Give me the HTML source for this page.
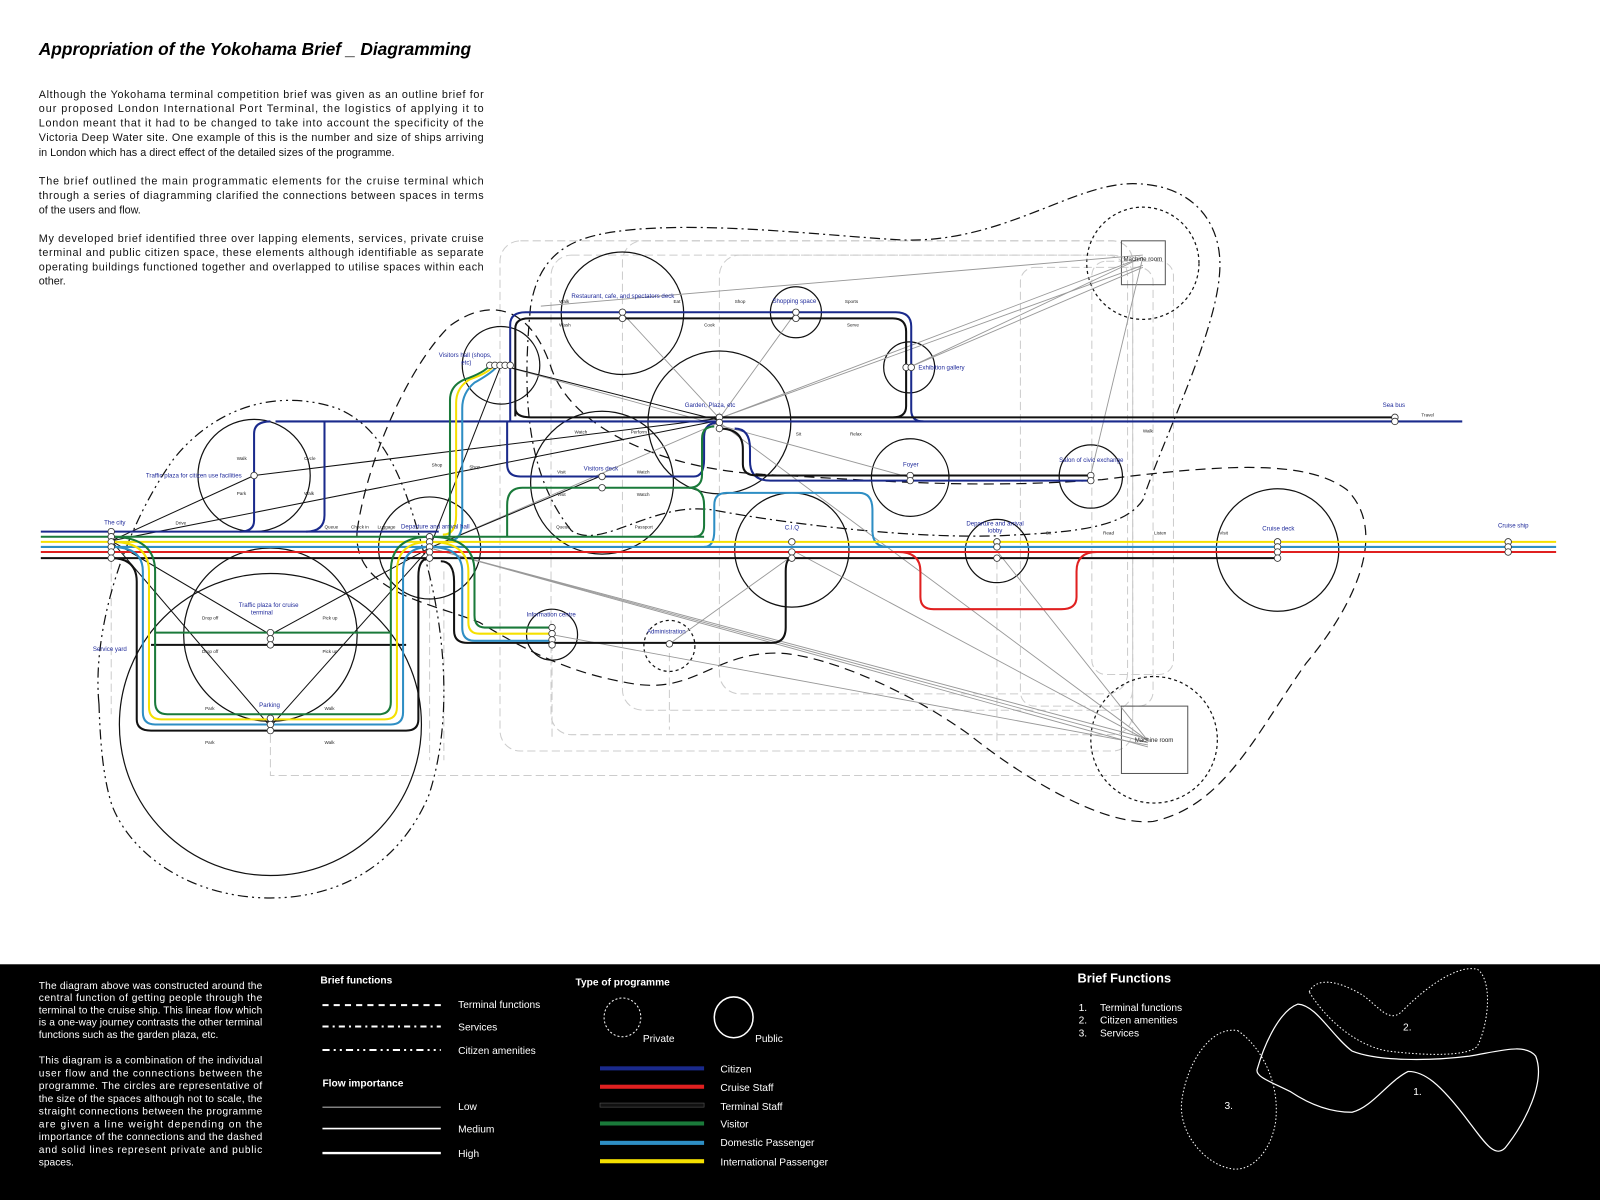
<!DOCTYPE html>
<html><head><meta charset="utf-8"><style>
html,body{margin:0;padding:0;background:#fff}
svg{display:block}
text{font-family:"Liberation Sans",Arial,sans-serif}
.lb{fill:#1f2a9a;font-size:6px}
.sm{fill:#222;font-size:4.5px}
.p{font-size:10.6px;fill:#111}
.w{fill:#fff;font-size:10px}
</style></head><body>
<svg width="1600" height="1200" viewBox="0 0 1568 1176" xmlns="http://www.w3.org/2000/svg">
<rect width="1568" height="1176" fill="#fff"/>
<text x="38" y="54" font-size="17" font-weight="bold" font-style="italic" fill="#000">Appropriation of the Yokohama Brief _ Diagramming</text>
<g class="p">
<text x="38" y="96" textLength="436" lengthAdjust="spacing">Although the Yokohama terminal competition brief was given as an outline brief for</text>
<text x="38" y="110" textLength="436" lengthAdjust="spacing">our proposed London International Port Terminal, the logistics of applying it to</text>
<text x="38" y="124" textLength="436" lengthAdjust="spacing">London meant that it had to be changed to take into account the specificity of the</text>
<text x="38" y="138" textLength="436" lengthAdjust="spacing">Victoria Deep Water site. One example of this is the number and size of ships arriving</text>
<text x="38" y="153">in London which has a direct effect of the detailed sizes of the programme.</text>
<text x="38" y="181" textLength="436" lengthAdjust="spacing">The brief outlined the main programmatic elements for the cruise terminal which</text>
<text x="38" y="195" textLength="436" lengthAdjust="spacing">through a series of diagramming clarified the connections between spaces in terms</text>
<text x="38" y="209">of the users and flow.</text>
<text x="38" y="237" textLength="436" lengthAdjust="spacing">My developed brief identified three over lapping elements, services, private cruise</text>
<text x="38" y="251" textLength="436" lengthAdjust="spacing">terminal and public citizen space, these elements although identifiable as separate</text>
<text x="38" y="265" textLength="436" lengthAdjust="spacing">operating buildings functioned together and overlapped to utilise spaces within each</text>
<text x="38" y="279">other.</text>
</g>

<g fill="none" stroke="#ccc" stroke-width="1" stroke-dasharray="8,4">
<rect x="490" y="236" width="620" height="500" rx="20"/>
<rect x="540" y="250" width="570" height="470" rx="20"/>
<rect x="610" y="236" width="500" height="460" rx="20"/>
<rect x="705" y="250" width="400" height="430" rx="20"/>
<rect x="1070" y="256" width="80" height="405" rx="14"/>
<rect x="1000" y="262" width="130" height="430" rx="14"/>
<path d="M265 720 V760 H1100"/>
<line x1="109" y1="550" x2="109" y2="700"/>
<line x1="421" y1="550" x2="421" y2="745"/>
<line x1="541" y1="630" x2="541" y2="725"/>
<line x1="656" y1="640" x2="656" y2="715"/>
<line x1="977" y1="550" x2="977" y2="730"/>
<line x1="435" y1="560" x2="435" y2="745"/>
</g>

<g fill="none" stroke="#111" stroke-width="1.2">
<path stroke-dasharray="10,6" d="M350 520 C360 450 400 360 440 320 C480 290 520 300 540 360 C560 420 650 460 750 465 C850 470 950 480 1080 470 C1200 455 1280 450 1320 480 C1360 520 1330 590 1280 650 C1230 720 1200 790 1130 805 C1080 810 1000 760 950 720 C880 670 800 640 760 640 C700 640 680 680 620 670 C560 660 520 640 470 610 C420 590 345 580 350 520 Z"/>
<path stroke-dasharray="10,4,2,4" d="M560 520 C520 470 510 400 520 300 C530 240 570 230 620 225 C700 218 800 230 880 235 C980 240 1050 180 1110 180 C1170 180 1200 220 1195 270 C1190 330 1140 430 1120 490 C1100 520 1040 522 980 525 C900 528 780 515 700 500 C640 490 590 540 560 520 Z"/>
<path stroke-dasharray="10,4,2,4,2,4" d="M97 690 C90 620 120 520 170 450 C210 400 270 380 330 400 C380 420 400 480 420 560 C440 640 440 720 420 780 C390 850 330 880 265 880 C190 880 130 840 110 790 C100 760 98 720 97 690 Z"/>
</g>

<g fill="none" stroke="#111" stroke-width="1.2">
<circle cx="249" cy="466" r="55"/>
<circle cx="610" cy="307" r="60"/>
<circle cx="780" cy="306" r="25"/>
<circle cx="891" cy="360" r="25"/>
<circle cx="491" cy="358" r="38"/>
<circle cx="705" cy="414" r="70"/>
<circle cx="590" cy="473" r="70"/>
<circle cx="421" cy="537" r="50"/>
<circle cx="265" cy="622" r="85"/>
<circle cx="265" cy="710" r="148"/>
<circle cx="892" cy="468" r="38"/>
<circle cx="1069" cy="467" r="31"/>
<circle cx="776" cy="539" r="56"/>
<circle cx="977" cy="540" r="31"/>
<circle cx="1252" cy="539" r="60"/>
<circle cx="541" cy="622" r="25"/>
</g>
<g fill="none" stroke="#111" stroke-width="1.2" stroke-dasharray="3,3">
<circle cx="656" cy="633" r="25"/>
<circle cx="1120" cy="258" r="55"/>
<circle cx="1131" cy="725" r="62"/>
</g>
<rect x="1099" y="236" width="43" height="43" fill="none" stroke="#555"/>
<rect x="1099" y="692" width="65" height="66" fill="none" stroke="#555"/>

<g stroke="#999" stroke-width="0.9">
<line x1="705" y1="410" x2="1120" y2="252"/><line x1="705" y1="410" x2="1120" y2="260"/>
<line x1="891" y1="360" x2="1120" y2="252"/><line x1="891" y1="360" x2="1120" y2="262"/>
<line x1="530" y1="300" x2="1120" y2="250"/>
<line x1="1120" y1="252" x2="1069" y2="465"/>
<line x1="421" y1="537" x2="1125" y2="728"/><line x1="421" y1="537" x2="1125" y2="724"/>
<line x1="421" y1="537" x2="1125" y2="732"/>
<line x1="705" y1="414" x2="1125" y2="726"/>
<line x1="776" y1="539" x2="1125" y2="726"/>
<line x1="977" y1="540" x2="1125" y2="726"/>
<line x1="541" y1="622" x2="1125" y2="730"/>
<line x1="491" y1="358" x2="892" y2="468"/>
<line x1="610" y1="307" x2="705" y2="410"/>
<line x1="780" y1="306" x2="705" y2="410"/>
<line x1="656" y1="631" x2="776" y2="545"/>
<line x1="421" y1="537" x2="705" y2="414"/>
</g>
<g stroke="#111" stroke-width="1">
<line x1="109" y1="530" x2="249" y2="466"/>
<line x1="249" y1="466" x2="705" y2="410"/>
<line x1="109" y1="530" x2="705" y2="412"/>
<line x1="109" y1="530" x2="265" y2="622"/>
<line x1="109" y1="530" x2="265" y2="712"/>
<line x1="265" y1="622" x2="421" y2="537"/>
<line x1="265" y1="712" x2="421" y2="537"/>
<line x1="421" y1="537" x2="590" y2="466"/>
<line x1="421" y1="537" x2="491" y2="358"/>
<line x1="491" y1="358" x2="705" y2="412"/>
</g>

<g fill="none" stroke-width="2" stroke-linejoin="round">
<path stroke="#1a2a8c" d="M40 521 H109 H430"/>
<path stroke="#1a2a8c" d="M270 413 H1433"/>
<path stroke="#1a2a8c" d="M249 425 V510 Q249 521 235 521 M249 425 Q249 413 265 413"/>
<path stroke="#1a2a8c" d="M318 413 Q318 425 318 440 V505 Q318 521 300 521"/>
<path stroke="#1a2a8c" d="M497 413 Q497 430 497 455 Q497 467 510 467 H680 Q690 467 690 450 V428 Q690 414 705 414"/>
<path stroke="#1a2a8c" d="M500 413 V318 Q500 306 515 306 H878 Q893 306 893 320 V402 Q893 413 905 413"/>
<path stroke="#1a2a8c" d="M720 420 Q735 420 735 440 V452 Q735 471 755 471 H1069"/>
<path stroke="#111" d="M505 408 V322 Q505 312 518 312 H875 Q888 312 888 325 V398 Q888 409 875 409 H520 Q505 409 505 400"/>
<path stroke="#111" d="M700 409 H1367"/>
<path stroke="#111" d="M705 420 Q728 420 728 440 V455 Q728 466 742 466 H1069"/>
<path stroke="#111" d="M40 547 H1252"/>
<path stroke="#111" d="M109 547 Q134 547 134 570 V705 Q134 716 148 716 H398 Q410 716 410 705 V565 Q410 547 421 547"/>
<path stroke="#111" d="M148 632 H398"/>
<path stroke="#111" d="M432 550 Q445 550 445 570 V618 Q445 630 458 630 H756 Q770 630 770 615 V560 Q770 547 776 547"/>
<path stroke="#e02020" d="M40 541 H1525"/>
<path stroke="#e02020" d="M880 541 Q902 541 902 560 V585 Q902 597 915 597 H1040 Q1055 597 1055 585 V560 Q1055 541 1075 541"/>
<path stroke="#2e8ec4" d="M40 536 H1525"/>
<path stroke="#2e8ec4" d="M109 536 Q140 536 140 560 V698 Q140 710 152 710 H383 Q395 710 395 698 V560 Q395 536 421 536"/>
<path stroke="#2e8ec4" d="M421 536 Q453 536 453 560 V615 Q453 628 465 628 H541"/>
<path stroke="#2e8ec4" d="M440 530 Q453 530 453 510 V400 Q453 385 465 375 Q483 365 488 358"/>
<path stroke="#2e8ec4" d="M690 536 Q700 536 700 520 V495 Q700 483 712 483 H842 Q855 483 855 500 V520 Q855 536 870 536"/>
<path stroke="#f5e000" d="M40 531 H1525"/>
<path stroke="#f5e000" d="M109 531 Q146 531 146 560 V693 Q146 705 158 705 H377 Q389 705 389 693 V560 Q389 531 421 531"/>
<path stroke="#f5e000" d="M421 531 Q459 531 459 560 V610 Q459 621 470 621 H541"/>
<path stroke="#f5e000" d="M434 524 Q447 524 447 505 V395 Q447 380 460 372 Q480 365 484 358"/>
<path stroke="#1a7a3a" d="M40 526 H690"/>
<path stroke="#1a7a3a" d="M109 526 Q152 526 152 560 V688 Q152 700 164 700 H371 Q383 700 383 688 V560 Q383 526 421 526"/>
<path stroke="#1a7a3a" d="M152 620 H383"/>
<path stroke="#1a7a3a" d="M421 526 Q465 526 465 560 V603 Q465 615 475 615 H541"/>
<path stroke="#1a7a3a" d="M440 526 Q441 526 441 505 V392 Q441 378 455 372 Q475 365 480 358"/>
<path stroke="#1a7a3a" d="M497 526 Q497 510 497 495 Q497 478 512 478 H675 Q688 478 688 465 V430 Q688 418 700 418"/>
<path stroke="#1a7a3a" d="M675 478 Q690 478 690 495 V515 Q690 526 680 526"/>
</g>
<g fill="#fff" stroke="#333" stroke-width="0.8">
<circle cx="109" cy="521" r="3.2"/><circle cx="109" cy="526" r="3.2"/><circle cx="109" cy="531" r="3.2"/><circle cx="109" cy="536" r="3.2"/><circle cx="109" cy="541" r="3.2"/><circle cx="109" cy="547" r="3.2"/>
<circle cx="421" cy="526" r="3.2"/><circle cx="421" cy="531" r="3.2"/><circle cx="421" cy="536" r="3.2"/><circle cx="421" cy="541" r="3.2"/><circle cx="421" cy="547" r="3.2"/>
<circle cx="249" cy="466" r="3.2"/>
<circle cx="265" cy="620" r="3.2"/><circle cx="265" cy="626" r="3.2"/><circle cx="265" cy="632" r="3.2"/>
<circle cx="265" cy="704" r="3.2"/><circle cx="265" cy="710" r="3.2"/><circle cx="265" cy="716" r="3.2"/>
<circle cx="480" cy="358" r="3.2"/><circle cx="485" cy="358" r="3.2"/><circle cx="490" cy="358" r="3.2"/><circle cx="495" cy="358" r="3.2"/><circle cx="500" cy="358" r="3.2"/>
<circle cx="610" cy="306" r="3.2"/><circle cx="610" cy="312" r="3.2"/>
<circle cx="780" cy="306" r="3.2"/><circle cx="780" cy="312" r="3.2"/>
<circle cx="888" cy="360" r="3.2"/><circle cx="893" cy="360" r="3.2"/>
<circle cx="705" cy="409" r="3.2"/><circle cx="705" cy="414" r="3.2"/><circle cx="705" cy="420" r="3.2"/>
<circle cx="590" cy="467" r="3.2"/><circle cx="590" cy="478" r="3.2"/>
<circle cx="892" cy="466" r="3.2"/><circle cx="892" cy="471" r="3.2"/>
<circle cx="1069" cy="466" r="3.2"/><circle cx="1069" cy="471" r="3.2"/>
<circle cx="1367" cy="409" r="3.2"/><circle cx="1367" cy="413" r="3.2"/>
<circle cx="776" cy="531" r="3.2"/><circle cx="776" cy="541" r="3.2"/><circle cx="776" cy="547" r="3.2"/>
<circle cx="977" cy="531" r="3.2"/><circle cx="977" cy="536" r="3.2"/><circle cx="977" cy="547" r="3.2"/>
<circle cx="1252" cy="531" r="3.2"/><circle cx="1252" cy="536" r="3.2"/><circle cx="1252" cy="541" r="3.2"/><circle cx="1252" cy="547" r="3.2"/>
<circle cx="1478" cy="531" r="3.2"/><circle cx="1478" cy="536" r="3.2"/><circle cx="1478" cy="541" r="3.2"/>
<circle cx="541" cy="615" r="3.2"/><circle cx="541" cy="621" r="3.2"/><circle cx="541" cy="627" r="3.2"/><circle cx="541" cy="632" r="3.2"/>
<circle cx="656" cy="631" r="3.2"/>
</g>

<g class="lb">
<text x="102" y="514">The city</text>
<text x="143" y="468">Traffic plaza for citizen use facilities</text>
<text x="91" y="638">Service yard</text>
<text x="234" y="595">Traffic plaza for cruise</text>
<text x="246" y="602">terminal</text>
<text x="254" y="693">Parking</text>
<text x="393" y="518">Departure and arrival hall</text>
<text x="430" y="350">Visitors hall (shops,</text>
<text x="452" y="357">etc)</text>
<text x="560" y="292">Restaurant, cafe, and spectators deck</text>
<text x="757" y="297">Shopping space</text>
<text x="900" y="362">Exhibition gallery</text>
<text x="671" y="399">Garden, Plaza, etc</text>
<text x="572" y="461">Visitors deck</text>
<text x="885" y="457">Foyer</text>
<text x="1038" y="453">Salon of civic exchange</text>
<text x="1355" y="399">Sea bus</text>
<text x="769" y="519">C.I.Q</text>
<text x="947" y="515">Departure and arrival</text>
<text x="968" y="522">lobby</text>
<text x="1237" y="520">Cruise deck</text>
<text x="1468" y="517">Cruise ship</text>
<text x="516" y="604">Information centre</text>
<text x="634" y="621">Administration</text>
<text x="1101" y="256" fill="#222">Machine room</text>
<text x="1112" y="727" fill="#222">Machine room</text>
</g>
<g class="sm">
<text x="172" y="514">Drive</text><text x="318" y="518">Queue</text><text x="344" y="518">Check in</text><text x="370" y="518">Luggage</text>
<text x="545" y="518">Queue</text><text x="622" y="518">Passport</text>
<text x="232" y="451">Walk</text><text x="232" y="485">Park</text><text x="298" y="451">Cycle</text><text x="298" y="485">Walk</text>
<text x="198" y="607">Drop off</text><text x="198" y="640">Drop off</text><text x="316" y="607">Pick up</text><text x="316" y="640">Pick up</text>
<text x="201" y="696">Park</text><text x="201" y="729">Park</text><text x="318" y="696">Walk</text><text x="318" y="729">Walk</text>
<text x="423" y="457">Shop</text><text x="460" y="459">Shop</text>
<text x="548" y="297">Walk</text><text x="548" y="320">Wash</text><text x="660" y="297">Eat</text><text x="690" y="320">Cook</text>
<text x="720" y="297">Shop</text><text x="828" y="297">Sports</text><text x="830" y="320">Serve</text>
<text x="563" y="425">Watch</text><text x="618" y="425">Perform</text><text x="780" y="427">Sit</text><text x="833" y="427">Relax</text>
<text x="1120" y="424">Walk</text><text x="1393" y="408">Travel</text>
<text x="546" y="464">Visit</text><text x="546" y="486">Visit</text><text x="624" y="464">Watch</text><text x="624" y="486">Watch</text>
<text x="1025" y="524">Sit</text><text x="1081" y="524">Read</text><text x="1131" y="524">Listen</text><text x="1195" y="524">Visit</text>
</g>

<rect x="0" y="945" width="1568" height="231" fill="#000"/>
<g class="w" font-size="9.5">
<text x="38" y="969" textLength="219" lengthAdjust="spacing">The diagram above was constructed around the</text>
<text x="38" y="981" textLength="219" lengthAdjust="spacing">central function of getting people through the</text>
<text x="38" y="993" textLength="219" lengthAdjust="spacing">terminal to the cruise ship. This linear flow which</text>
<text x="38" y="1005" textLength="219" lengthAdjust="spacing">is a one-way journey contrasts the other terminal</text>
<text x="38" y="1017">functions such as the garden plaza, etc.</text>
<text x="38" y="1042" textLength="219" lengthAdjust="spacing">This diagram is a combination of the individual</text>
<text x="38" y="1055" textLength="219" lengthAdjust="spacing">user flow and the connections between the</text>
<text x="38" y="1067" textLength="219" lengthAdjust="spacing">programme. The circles are representative of</text>
<text x="38" y="1080" textLength="219" lengthAdjust="spacing">the size of the spaces although not to scale, the</text>
<text x="38" y="1092" textLength="219" lengthAdjust="spacing">straight connections between the programme</text>
<text x="38" y="1105" textLength="219" lengthAdjust="spacing">are given a line weight depending on the</text>
<text x="38" y="1117" textLength="219" lengthAdjust="spacing">importance of the connections and the dashed</text>
<text x="38" y="1130" textLength="219" lengthAdjust="spacing">and solid lines represent private and public</text>
<text x="38" y="1142">spaces.</text>
<text x="314" y="964" font-weight="bold">Brief functions</text>
<text x="449" y="988">Terminal functions</text>
<text x="449" y="1010">Services</text>
<text x="449" y="1033">Citizen amenities</text>
<text x="316" y="1065" font-weight="bold">Flow importance</text>
<text x="449" y="1088">Low</text><text x="449" y="1110">Medium</text><text x="449" y="1134">High</text>
<text x="564" y="966" font-weight="bold">Type of programme</text>
<text x="630" y="1021">Private</text><text x="740" y="1021">Public</text>
<text x="706" y="1051">Citizen</text><text x="706" y="1069">Cruise Staff</text><text x="706" y="1088">Terminal Staff</text>
<text x="706" y="1105">Visitor</text><text x="706" y="1123">Domestic Passenger</text><text x="706" y="1142">International Passenger</text>
<text x="1056" y="963" font-size="12.5" font-weight="bold">Brief Functions</text>
<text x="1057" y="991">1.</text><text x="1078" y="991">Terminal functions</text>
<text x="1057" y="1003">2.</text><text x="1078" y="1003">Citizen amenities</text>
<text x="1057" y="1016">3.</text><text x="1078" y="1016">Services</text>
<text x="1375" y="1010">2.</text><text x="1385" y="1073">1.</text><text x="1200" y="1087">3.</text>
</g>
<g stroke="#fff" fill="none">
<line x1="316" y1="985" x2="432" y2="985" stroke-width="2" stroke-dasharray="6,5"/>
<line x1="316" y1="1006" x2="432" y2="1006" stroke-width="2" stroke-dasharray="6,4,2,4"/>
<line x1="316" y1="1029" x2="432" y2="1029" stroke-width="2" stroke-dasharray="7,4,2,4,2,4"/>
<line x1="316" y1="1085" x2="432" y2="1085" stroke-width="0.8"/>
<line x1="316" y1="1106" x2="432" y2="1106" stroke-width="1.6"/>
<line x1="316" y1="1130" x2="432" y2="1130" stroke-width="2.4"/>
<ellipse cx="610" cy="997" rx="18" ry="19" stroke-dasharray="2,2"/>
<ellipse cx="719" cy="997" rx="19" ry="20" stroke-width="1.5"/>
<path stroke-width="1.2" d="M1232 1048 C1240 1020 1255 990 1272 984 C1290 985 1305 1015 1325 1030 C1350 1040 1400 1040 1440 1035 C1470 1030 1495 1022 1505 1035 C1515 1060 1495 1100 1475 1125 C1465 1135 1455 1120 1440 1100 C1410 1060 1395 1050 1380 1050 C1360 1060 1345 1085 1325 1090 C1300 1090 1280 1080 1265 1070 C1245 1060 1230 1055 1232 1048 Z"/>
<path stroke-width="1" stroke-dasharray="1.5,2" d="M1283 972 C1290 958 1310 960 1335 975 C1350 985 1362 1005 1375 990 C1400 965 1430 945 1448 950 C1462 960 1460 1000 1448 1025 C1440 1035 1400 1035 1360 1030 C1330 1025 1300 1000 1283 972 Z"/>
<path stroke-width="1" stroke-dasharray="1.5,2" d="M1213 1010 C1235 1025 1255 1060 1250 1100 C1245 1130 1225 1150 1205 1145 C1180 1140 1155 1110 1158 1080 C1162 1045 1185 1005 1213 1010 Z"/>
</g>
<g>
<rect x="588" y="1045" width="102" height="4" fill="#1a2a8c"/>
<rect x="588" y="1063" width="102" height="4" fill="#e02020"/>
<rect x="588" y="1081" width="102" height="4" fill="#111" stroke="#555" stroke-width="0.6"/>
<rect x="588" y="1099" width="102" height="4" fill="#1a7a3a"/>
<rect x="588" y="1118" width="102" height="4" fill="#2e8ec4"/>
<rect x="588" y="1136" width="102" height="4" fill="#f5e000"/>
</g>
</svg>
</body></html>
